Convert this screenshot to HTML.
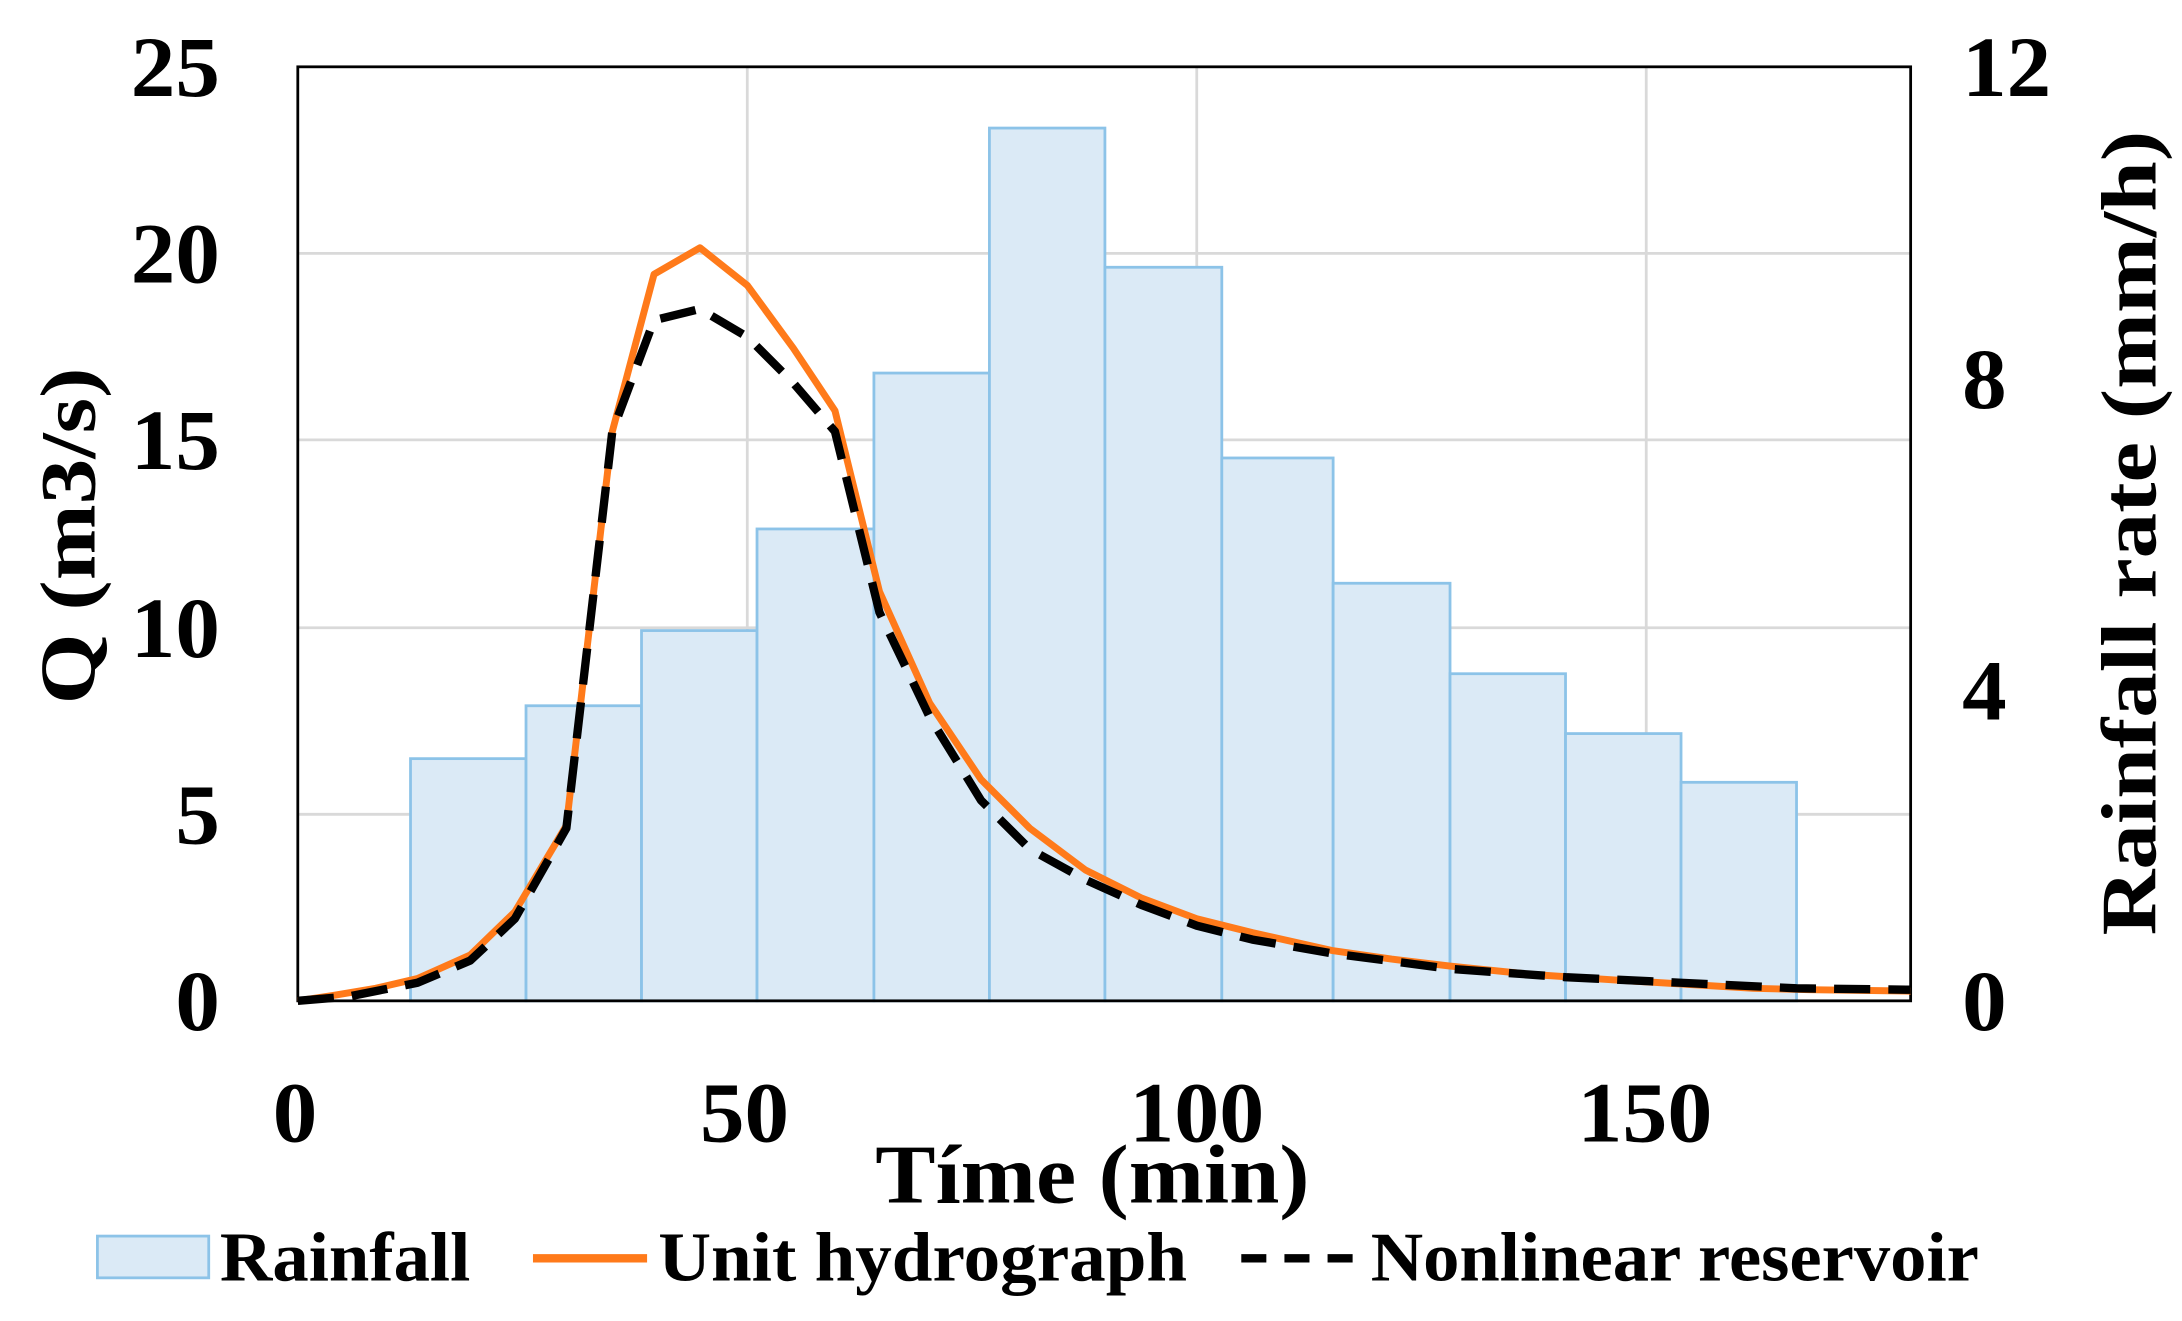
<!DOCTYPE html>
<html><head><meta charset="utf-8"><style>
html,body{margin:0;padding:0;background:#fff;}
svg{display:block;}
text{font-family:"Liberation Serif",serif;font-weight:bold;fill:#000;}
</style></head><body>
<svg width="2182" height="1321" viewBox="0 0 1568 949" preserveAspectRatio="none">
<rect width="1568" height="949" fill="#fff"/>
<g stroke="#d9d9d9" stroke-width="2">
<line x1="214" y1="585" x2="1373" y2="585"/><line x1="214" y1="451" x2="1373" y2="451"/>
<line x1="214" y1="316" x2="1373" y2="316"/><line x1="214" y1="182" x2="1373" y2="182"/>
<line x1="537" y1="48" x2="537" y2="719"/><line x1="860" y1="48" x2="860" y2="719"/><line x1="1183" y1="48" x2="1183" y2="719"/>
</g>
<g fill="#dbeaf6" stroke="#8cc3e8" stroke-width="2">
<rect x="295" y="545" width="83" height="174"/>
<rect x="378" y="507" width="83" height="212"/>
<rect x="461" y="453" width="83" height="266"/>
<rect x="544" y="380" width="84" height="339"/>
<rect x="628" y="268" width="83" height="451"/>
<rect x="711" y="92" width="83" height="627"/>
<rect x="794" y="192" width="84" height="527"/>
<rect x="878" y="329" width="80" height="390"/>
<rect x="958" y="419" width="84" height="300"/>
<rect x="1042" y="484" width="83" height="235"/>
<rect x="1125" y="527" width="83" height="192"/>
<rect x="1208" y="562" width="83" height="157"/>
</g>
<rect x="214" y="48" width="1159" height="671" fill="none" stroke="#000" stroke-width="2"/>
<polyline fill="none" stroke="#ff7a1a" stroke-width="5" stroke-linejoin="round" points="214,719 240,715 270,710 300,703 338,686 370,655 407,593 440,310 470,197 503,178 537,205 570,250 600,295 632,425 668,505 705,560 740,595 780,625 820,645 860,660 900,670 958,683 1000,689 1042,694 1100,700 1160,704 1210,707 1260,710 1300,711 1373,712"/>
<polyline fill="none" stroke="#000" stroke-width="6" stroke-dasharray="26,13" stroke-linejoin="round" points="214,719 250,716 300,706 338,690 370,660 407,595 440,310 470,230 503,222 537,242 570,275 600,310 632,440 668,515 705,575 740,610 780,632 820,650 860,665 900,675 958,685 1042,696 1125,702 1208,706 1291,710 1373,711"/>
<g font-size="62" text-anchor="end">
<text x="158" y="740" textLength="32" lengthAdjust="spacingAndGlyphs">0</text>
<text x="158" y="606" textLength="32" lengthAdjust="spacingAndGlyphs">5</text>
<text x="158" y="472" textLength="64" lengthAdjust="spacingAndGlyphs">10</text>
<text x="158" y="337" textLength="64" lengthAdjust="spacingAndGlyphs">15</text>
<text x="158" y="203" textLength="64" lengthAdjust="spacingAndGlyphs">20</text>
<text x="158" y="69" textLength="64" lengthAdjust="spacingAndGlyphs">25</text>
</g>
<g font-size="62" text-anchor="start">
<text x="1410" y="740" textLength="32" lengthAdjust="spacingAndGlyphs">0</text>
<text x="1410" y="517" textLength="32" lengthAdjust="spacingAndGlyphs">4</text>
<text x="1410" y="293" textLength="32" lengthAdjust="spacingAndGlyphs">8</text>
<text x="1410" y="69" textLength="64" lengthAdjust="spacingAndGlyphs">12</text>
</g>
<g font-size="62" text-anchor="middle">
<text x="212" y="820" textLength="32" lengthAdjust="spacingAndGlyphs">0</text>
<text x="535" y="820" textLength="64" lengthAdjust="spacingAndGlyphs">50</text>
<text x="860" y="820" textLength="97" lengthAdjust="spacingAndGlyphs">100</text>
<text x="1182" y="820" textLength="97" lengthAdjust="spacingAndGlyphs">150</text>
</g>
<text x="785" y="864" font-size="60" text-anchor="middle" textLength="312" lengthAdjust="spacingAndGlyphs">Tíme (min)</text>
<text transform="translate(68,385) rotate(-90)" font-size="56" text-anchor="middle" textLength="242" lengthAdjust="spacingAndGlyphs">Q (m3/s)</text>
<text transform="translate(1549,383) rotate(-90)" font-size="56" text-anchor="middle" textLength="578" lengthAdjust="spacingAndGlyphs">Rainfall rate (mm/h)</text>
<rect x="70" y="888" width="80" height="30" fill="#dbeaf6" stroke="#8cc3e8" stroke-width="2"/>
<text x="158" y="920" font-size="50" textLength="180" lengthAdjust="spacingAndGlyphs">Rainfall</text>
<line x1="383" y1="904" x2="465" y2="904" stroke="#ff7a1a" stroke-width="6"/>
<text x="473" y="920" font-size="50" textLength="380" lengthAdjust="spacingAndGlyphs">Unit hydrograph</text>
<line x1="892" y1="904" x2="975" y2="904" stroke="#000" stroke-width="6" stroke-dasharray="18,13"/>
<text x="985" y="920" font-size="50" textLength="437" lengthAdjust="spacingAndGlyphs">Nonlinear reservoir</text>
</svg>
</body></html>
